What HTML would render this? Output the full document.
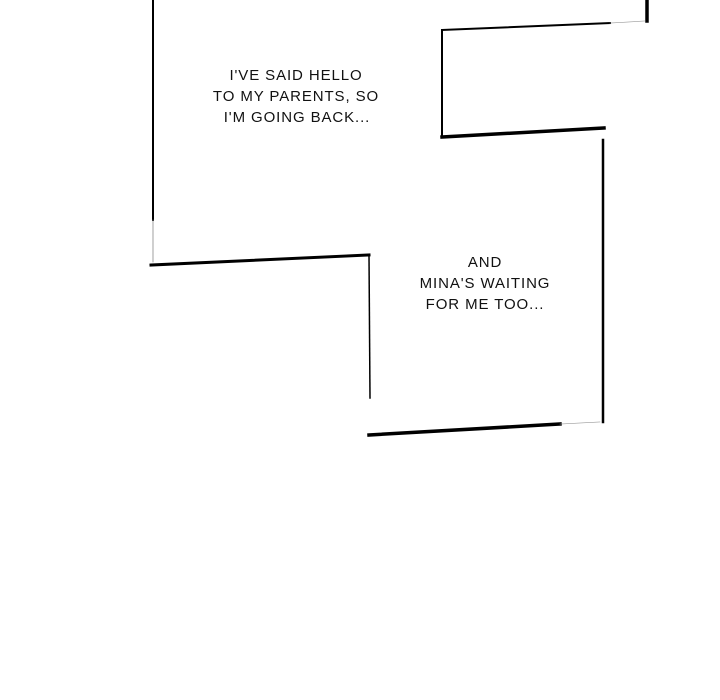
<!DOCTYPE html>
<html><head><style>
body{margin:0;width:720px;height:700px;background:#fff;overflow:hidden}
svg{position:absolute;left:0;top:0}
text{font-family:"Liberation Sans",sans-serif;font-size:15px;fill:#111;text-anchor:middle;letter-spacing:0.9px}
</style></head><body>
<svg width="720" height="700" xmlns="http://www.w3.org/2000/svg" stroke="#000" fill="none" stroke-linecap="square">
<line x1="153" y1="0" x2="153" y2="220" stroke-width="2"/>
<line x1="153" y1="220" x2="153" y2="262" stroke-width="0.8" stroke="#888"/>
<line x1="647" y1="0" x2="647" y2="21" stroke-width="3.5"/>
<line x1="442" y1="30" x2="610" y2="23" stroke-width="2"/>
<line x1="610" y1="23" x2="645" y2="21" stroke-width="0.6" stroke="#999"/>
<line x1="442" y1="30" x2="442" y2="137" stroke-width="2"/>
<line x1="442" y1="137" x2="604" y2="128" stroke-width="3.5"/>
<line x1="603" y1="140" x2="603" y2="422" stroke-width="2.5"/>
<line x1="369" y1="435" x2="560" y2="424" stroke-width="3.5"/>
<line x1="560" y1="424" x2="600" y2="422" stroke-width="0.6" stroke="#999"/>
<line x1="151" y1="265" x2="369" y2="255" stroke-width="3"/>
<line x1="369" y1="255" x2="370" y2="398" stroke-width="1.5"/>
<g stroke="none">
<text x="296" y="80">I'VE SAID HELLO</text>
<text x="296" y="101">TO MY PARENTS, SO</text>
<text x="297" y="122">I'M GOING BACK...</text>
<text x="485" y="267">AND</text>
<text x="485" y="288">MINA'S WAITING</text>
<text x="485" y="309">FOR ME TOO...</text>
</g>
</svg>
</body></html>
